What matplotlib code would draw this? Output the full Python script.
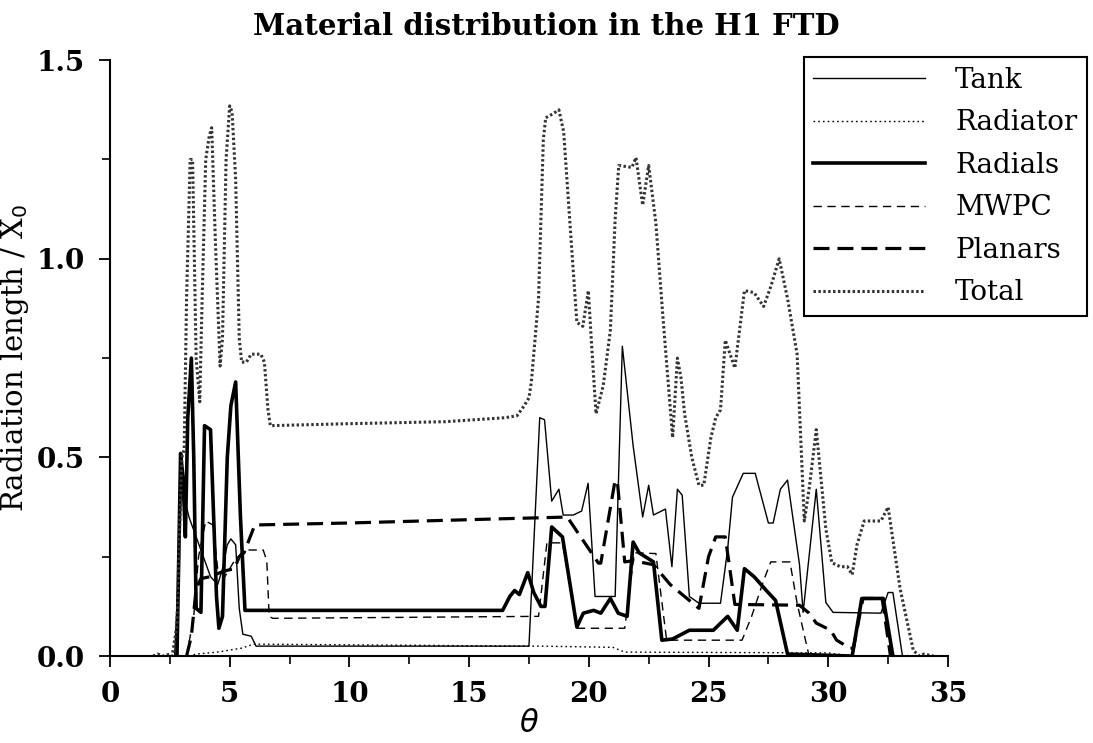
import numpy as np
import matplotlib
matplotlib.use("Agg")
import matplotlib.pyplot as plt
from matplotlib.ticker import MultipleLocator, FormatStrFormatter

# material budget vs polar angle
tank_theta = [2.7, 2.85, 3.0, 3.1, 3.3, 3.6, 3.9, 4.2, 4.5, 4.7, 4.9, 5.05, 5.25, 5.4, 5.55,
              5.9, 6.1, 17.5, 17.95, 18.15, 18.45, 18.75, 18.93, 19.35, 19.7, 19.97, 20.26,
              21.1, 21.4, 21.85, 22.25, 22.5, 22.7, 23.2, 23.47, 23.7, 23.9, 24.2, 24.6,
              25.5, 25.8, 26.0, 26.45, 26.95, 27.5, 27.7, 28.0, 28.3, 28.8, 28.95, 29.5,
              29.9, 30.2, 32.2, 32.5, 32.7, 33.1]
tank_x0 = [0.0, 0.2, 0.47, 0.4, 0.35, 0.3, 0.25, 0.2, 0.18, 0.22, 0.28, 0.295, 0.28, 0.12, 0.055,
           0.05, 0.025, 0.025, 0.6, 0.595, 0.39, 0.42, 0.355, 0.355, 0.365, 0.435, 0.15,
           0.15, 0.78, 0.53, 0.35, 0.43, 0.355, 0.37, 0.225, 0.42, 0.405, 0.15, 0.133,
           0.133, 0.27, 0.40, 0.46, 0.46, 0.335, 0.335, 0.42, 0.443, 0.23, 0.11, 0.42,
           0.135, 0.11, 0.108, 0.16, 0.16, 0.0]

radiator_theta = [3.3, 3.6, 4.5, 5.5, 6.0, 17.5, 18.0, 21.0, 21.5, 30.0, 31.0]
radiator_x0 = [0.0, 0.005, 0.01, 0.02, 0.03, 0.025, 0.025, 0.022, 0.01, 0.008, 0.0]

radials_theta = [2.8, 2.95, 3.05, 3.15, 3.25, 3.4, 3.5, 3.6, 3.8, 3.95, 4.2, 4.45, 4.55, 4.7,
                 4.9, 5.05, 5.25, 5.45, 5.64, 16.4, 16.7, 16.9, 17.1, 17.45, 17.7, 18.0,
                 18.17, 18.45, 18.9, 19.5, 19.77, 20.2, 20.5, 20.9, 21.23, 21.6, 21.85, 22.1,
                 22.7, 23.05, 23.5, 24.2, 25.2, 25.8, 26.2, 26.5, 26.9, 27.4, 27.8, 28.3,
                 31.0, 31.4, 32.3, 32.7]
radials_x0 = [0.0, 0.51, 0.45, 0.3, 0.6, 0.75, 0.5, 0.12, 0.11, 0.58, 0.57, 0.15, 0.07, 0.1,
              0.5, 0.63, 0.69, 0.35, 0.115, 0.115, 0.15, 0.165, 0.155, 0.21, 0.16, 0.125,
              0.125, 0.325, 0.30, 0.073, 0.108, 0.115, 0.108, 0.145, 0.108, 0.10, 0.287, 0.26,
              0.237, 0.04, 0.043, 0.065, 0.065, 0.10, 0.065, 0.22, 0.20, 0.166, 0.14, 0.005,
              0.0, 0.145, 0.145, 0.0]

mwpc_theta = [3.2, 3.5, 3.7, 4.0, 4.3, 4.5, 4.8, 5.2, 5.5, 5.8, 6.4, 6.55, 6.65, 6.8, 17.9,
              18.25, 18.9, 19.5, 21.5, 21.9, 22.8, 23.25, 26.4, 26.8, 27.3, 27.6, 28.4,
              28.7, 29.2]
mwpc_x0 = [0.0, 0.1, 0.25, 0.34, 0.33, 0.22, 0.2, 0.24, 0.26, 0.267, 0.267, 0.24, 0.1, 0.095,
           0.1, 0.285, 0.285, 0.07, 0.07, 0.26, 0.258, 0.04, 0.04, 0.1, 0.19, 0.237, 0.237,
           0.133, 0.0]

planars_theta = [3.2, 3.4, 3.6, 3.8, 4.2, 4.6, 4.9, 5.2, 5.4, 5.6, 6.05, 10.0, 16.0, 19.1,
                 20.4, 20.5, 21.1, 21.2, 21.5, 21.85, 22.7, 23.4, 24.2, 24.6, 25.0, 25.3,
                 25.7, 26.1, 28.8, 29.2, 29.5, 30.1, 30.35, 30.9, 31.05, 31.45, 32.25, 32.6]
planars_x0 = [0.0, 0.05, 0.17, 0.195, 0.2, 0.21, 0.216, 0.22, 0.25, 0.26, 0.33, 0.335, 0.345,
              0.35, 0.234, 0.234, 0.443, 0.435, 0.237, 0.24, 0.23, 0.18, 0.14, 0.12, 0.25,
              0.30, 0.30, 0.13, 0.128, 0.108, 0.083, 0.065, 0.04, 0.02, 0.02, 0.145, 0.145, 0.0]

total_theta = [1.8, 2.0, 2.2, 2.5, 2.6, 2.8, 2.9, 3.0, 3.1, 3.2, 3.35, 3.45, 3.6, 3.75, 3.85,
               4.0, 4.15, 4.25, 4.4, 4.6, 4.7, 4.85, 5.0, 5.1, 5.25, 5.4, 5.5, 5.7, 5.9, 6.3,
               6.45, 6.6, 6.7, 10.0, 14.0, 16.5, 17.0, 17.3, 17.5, 17.6, 17.9, 18.1, 18.2,
               18.5, 18.75, 18.95, 19.2, 19.5, 19.75, 19.98, 20.1, 20.3, 20.6, 20.9, 21.1,
               21.25, 21.8, 21.97, 22.25, 22.5, 22.8, 23.1, 23.3, 23.5, 23.7, 23.85, 24.0,
               24.3, 24.6, 24.8, 25.1, 25.3, 25.5, 25.7, 26.1, 26.5, 26.9, 27.3, 27.6, 27.95,
               28.3, 28.7, 28.85, 29.0, 29.2, 29.5, 29.9, 30.15, 30.5, 30.8, 31.0, 31.2, 31.5,
               32.2, 32.5, 33.0, 33.55, 33.8, 34.0, 34.4]
total_x0 = [0.0, 0.005, 0.0, 0.005, 0.0, 0.08, 0.3, 0.5, 0.52, 0.9, 1.25, 1.25, 0.75, 0.64, 0.9,
            1.25, 1.31, 1.33, 1.05, 0.73, 0.8, 1.25, 1.385, 1.37, 1.2, 0.8, 0.74, 0.74, 0.76, 0.76,
            0.74, 0.62, 0.58, 0.585, 0.59, 0.6, 0.605, 0.63, 0.65, 0.69, 0.9, 1.3, 1.355,
            1.365, 1.375, 1.32, 1.1, 0.84, 0.83, 0.92, 0.8, 0.61, 0.68, 0.82, 1.1,
            1.235, 1.23, 1.255, 1.135, 1.235, 1.09, 0.85, 0.7, 0.55, 0.75, 0.7, 0.61,
            0.5, 0.43, 0.43, 0.55, 0.6, 0.62, 0.795, 0.725, 0.92, 0.915, 0.88, 0.93, 1.0,
            0.9, 0.76, 0.55, 0.34, 0.42, 0.57, 0.32, 0.235, 0.225, 0.225, 0.205, 0.28, 0.34,
            0.34, 0.375, 0.17, 0.015, 0.0, 0.005, 0.0]

plt.rcParams['font.family'] = ['DejaVu Serif']

fig = plt.figure(figsize=(10.93, 7.43), dpi=100)
ax = fig.add_axes([0.1006, 0.117, 0.7667, 0.802])

ax.plot(tank_theta, tank_x0, color='black', lw=1.0, label='Tank')
ax.plot(radiator_theta, radiator_x0, color='black', lw=1.0, dashes=(1.2, 2.2), label='Radiator')
ax.plot(radials_theta, radials_x0, color='black', lw=2.6, label='Radials')
ax.plot(mwpc_theta, mwpc_x0, color='black', lw=1.0, dashes=(6, 4), label='MWPC')
ax.plot(planars_theta, planars_x0, color='black', lw=2.3, dashes=(5, 2.5), label='Planars')
ax.plot(total_theta, total_x0, color='#333333', lw=2.2, dashes=(0.8, 0.8), label='Total')

ax.set_xlim(0, 35)
ax.set_ylim(0, 1.5)
ax.spines['top'].set_visible(False)
ax.spines['right'].set_visible(False)
ax.spines['left'].set_linewidth(1.5)
ax.spines['bottom'].set_linewidth(1.5)

ax.xaxis.set_major_locator(MultipleLocator(5))
ax.xaxis.set_minor_locator(MultipleLocator(2.5))
ax.yaxis.set_major_locator(MultipleLocator(0.5))
ax.yaxis.set_minor_locator(MultipleLocator(0.25))
ax.yaxis.set_major_formatter(FormatStrFormatter('%.1f'))
ax.tick_params(which='major', direction='out', length=8, width=1.3, labelsize=20, pad=10)
ax.tick_params(which='minor', direction='out', length=6, width=1.2)
for lab in ax.get_xticklabels() + ax.get_yticklabels():
    lab.set_fontweight('bold')

ax.set_xlabel(r'$\theta$', fontsize=22, labelpad=0)
ax.set_ylabel(r'Radiation length / X$_0$', fontsize=21, labelpad=4)
fig.text(0.5, 0.965, 'Material distribution in the H1 FTD', ha='center', va='center',
         fontsize=21, fontweight='bold')

leg = ax.legend(loc='upper right', bbox_to_anchor=(0.9945, 0.9233), bbox_transform=fig.transFigure,
                borderaxespad=0, fancybox=False, framealpha=1, edgecolor='black',
                fontsize=20, handlelength=4.0, handletextpad=1.1, labelspacing=0.56,
                borderpad=0.35)
leg.get_frame().set_linewidth(1.5)

fig.savefig('out.png', dpi=100)
